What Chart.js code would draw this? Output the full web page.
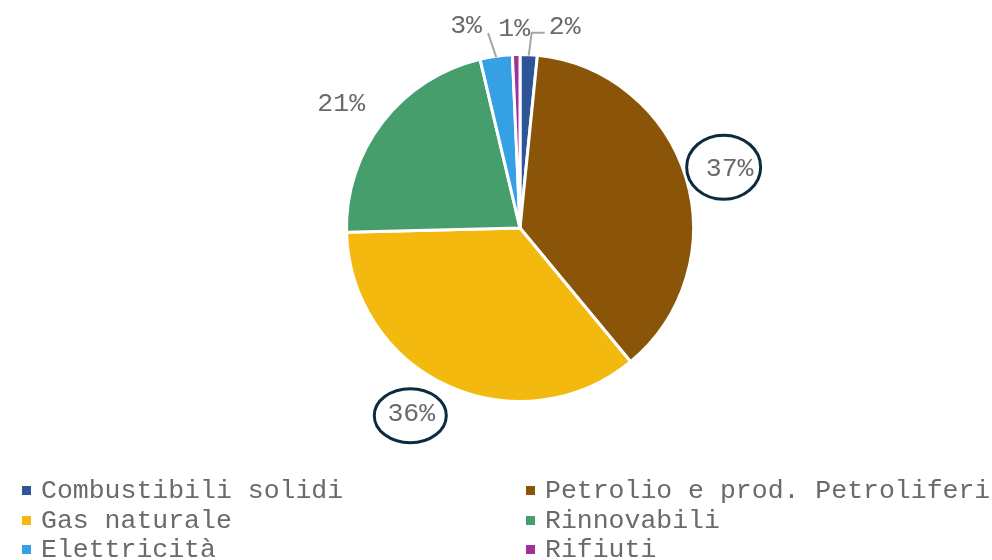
<!DOCTYPE html>
<html>
<head>
<meta charset="utf-8">
<script src="https://cdn.jsdelivr.net/npm/chart.js@4"></script>
<style>
  html, body { margin: 0; padding: 0; background: #fff; }
  #wrap { width: 992px; height: 560px; }
</style>
</head>
<body>
<div id="wrap"><canvas id="chart" width="992" height="560"></canvas></div>
<script>
var categories = ["Combustibili solidi", "Petrolio e prod. Petroliferi", "Gas naturale", "Rinnovabili", "Elettricità", "Rifiuti"];
var shares = [1.6, 37.4, 35.6, 21.7, 3.0, 0.7];
var shareLabels = ["2%", "37%", "36%", "21%", "3%", "1%"];
var colors = ["#2E5597", "#8B5509", "#F4B90F", "#469E6D", "#35A0E4", "#A0309A"];

var FONT = '"Liberation Mono", "Courier New", monospace';
var TEXT = "#6a6a6a";

// label placement per slice: radius factor along mid-angle plus a shift;
// leader = [dx, dy] of the line end relative to the label, optional horizontal tail
// circle = [dx, dy, rx, ry] relative to the label
var labelOpts = [
	{ r: 1.0, dx: 36, dy: -28, leader: [-33, 6, 13] },
	{ r: 1.245, dx: 3, dy: 4, circle: [-6, -2, 37, 32] },
	{ r: 1.22, dx: -21, dy: -7, circle: [-1, 2, 36, 27] },
	{ r: 1.25, dx: -7, dy: 8 },
	{ r: 1.0, dx: -30, dy: -30, leader: [22, 7] },
	{ r: 1.0, dx: -2, dy: -26 }
];

var labelPlugin = {
	id: 'pieLabels',
	afterDatasetsDraw: function(chart) {
		var ctx = chart.ctx;
		var arcs = chart.getDatasetMeta(0).data;
		ctx.save();
		ctx.font = "26.5px " + FONT;
		ctx.textAlign = "center";
		ctx.textBaseline = "middle";
		arcs.forEach(function(arc, i) {
			var o = labelOpts[i];
			var mid = (arc.startAngle + arc.endAngle) / 2;
			var R = arc.outerRadius;
			var x = arc.x + Math.cos(mid) * R * o.r + o.dx;
			var y = arc.y + Math.sin(mid) * R * o.r + o.dy;
			if (o.leader) {
				ctx.strokeStyle = "#A6A6A6";
				ctx.lineWidth = 2;
				ctx.beginPath();
				var x0 = arc.x + Math.cos(mid) * (R - 1);
				var y0 = arc.y + Math.sin(mid) * (R - 1);
				var x1 = x + o.leader[0], y1 = y + o.leader[1];
				ctx.moveTo(x0, y0);
				ctx.lineTo(x1, y1);
				if (o.leader[2]) ctx.lineTo(x1 + o.leader[2], y1);
				ctx.stroke();
			}
			if (o.circle) {
				ctx.strokeStyle = "#0D2B3E";
				ctx.lineWidth = 3;
				ctx.beginPath();
				ctx.ellipse(x + o.circle[0], y + o.circle[1], o.circle[2], o.circle[3], 0, 0, Math.PI * 2);
				ctx.stroke();
			}
			ctx.fillStyle = TEXT;
			ctx.fillText(shareLabels[i], x, y);
		});
		ctx.restore();
	}
};

var legendPlugin = {
	id: 'twoColLegend',
	afterDraw: function(chart) {
		var ctx = chart.ctx;
		ctx.save();
		ctx.font = "26.5px " + FONT;
		ctx.textAlign = "left";
		ctx.textBaseline = "middle";
		var cols = [22, 526];
		var rows = [490, 520, 549];
		chart.data.labels.forEach(function(lab, i) {
			var cx = cols[i % 2], cy = rows[Math.floor(i / 2)];
			ctx.fillStyle = chart.data.datasets[0].backgroundColor[i];
			ctx.fillRect(cx, cy - 4, 9, 9);
			ctx.fillStyle = TEXT;
			ctx.fillText(lab, cx + 19, cy + 1);
		});
		ctx.restore();
	}
};

new Chart(document.getElementById("chart"), {
	type: 'pie',
	data: {
		labels: categories,
		datasets: [{ data: shares, backgroundColor: colors, borderColor: "#ffffff", borderWidth: 3 }]
	},
	options: {
		responsive: false,
		animation: false,
		layout: { padding: { top: 53, bottom: 157, left: 48, right: 0 } },
		plugins: { legend: { display: false }, tooltip: { enabled: false } }
	},
	plugins: [labelPlugin, legendPlugin]
});
</script>
</body>
</html>
